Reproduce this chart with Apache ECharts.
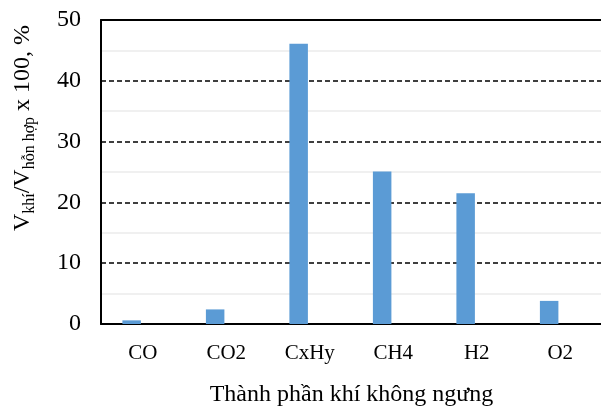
<!DOCTYPE html>
<html>
<head>
<meta charset="utf-8">
<script src="https://cdn.jsdelivr.net/npm/echarts@6/dist/echarts.min.js"></script>
<style>
  html, body { margin: 0; padding: 0; background: #fff; }
  #chart { width: 601px; height: 406px; }
</style>
</head>
<body>
<div id="chart"></div>
<script>
// số liệu
const categories = ['CO', 'CO2', 'CxHy', 'CH4', 'H2', 'O2']
const values = [0.6, 2.4, 46.1, 25.1, 21.5, 3.8]
const emptyValues = [null, null, null, null, null, null] // cột trống như Excel
const yTicks = [0, 10, 20, 30, 40, 50]

const font = '"Liberation Serif", "Times New Roman", serif'

const chart = echarts.init(document.getElementById('chart'))
const option = {
  animation: false,
  textStyle: { fontFamily: font },
  grid: { left: 101, right: -1, top: 20, bottom: 82, outerBoundsMode: 'none', containLabel: false },
  xAxis: [
    {
      type: 'category',
      data: categories,
      axisLine: { lineStyle: { color: '#000', width: 2 } },
      axisTick: { show: false },
      axisLabel: { color: '#000', fontSize: 21, fontFamily: font, margin: 19 },
      name: 'Thành phần khí không ngưng',
      nameLocation: 'middle',
      nameGap: 59,
      nameTextStyle: { color: '#000', fontSize: 24, fontFamily: font }
    },
    {
      // đường viền trên
      type: 'category',
      position: 'top',
      data: categories,
      axisLine: { lineStyle: { color: '#000', width: 2 } },
      axisTick: { show: false },
      axisLabel: { show: false }
    }
  ],
  yAxis: {
    type: 'value',
    min: yTicks[0],
    max: yTicks[yTicks.length - 1],
    interval: 10,
    axisLine: { show: true, lineStyle: { color: '#000', width: 2 } },
    axisTick: { show: false },
    axisLabel: { color: '#000', fontSize: 24, fontFamily: font, margin: 20 },
    splitLine: {
      show: true,
      lineStyle: { color: '#000', width: 1.5, type: [5, 3] }
    },
    minorTick: { show: false, splitNumber: 2 },
    minorSplitLine: { show: true, lineStyle: { color: '#f0f0f0', width: 2 } }
  },
  graphic: [
    {
      type: 'text',
      x: 23,
      y: 128,
      rotation: Math.PI / 2,
      style: {
        text: '{m|V}{s|khí}{m|/V}{s|hỗn hợp}{m| x 100, %}',
        align: 'center',
        verticalAlign: 'middle',
        fill: '#000',
        rich: {
          m: { fontSize: 24, fontFamily: font, lineHeight: 25, verticalAlign: 'top', fill: '#000' },
          s: { fontSize: 16, fontFamily: font, lineHeight: 18, padding: [11, 0, 0, 0], verticalAlign: 'top', fill: '#000' }
        }
      }
    }
  ],
  series: [
    {
      type: 'bar',
      data: values,
      barWidth: 18.5,
      barGap: '20%',
      itemStyle: { color: '#5b9bd5' }
    },
    {
      type: 'bar',
      data: emptyValues,
      barWidth: 18.5,
      itemStyle: { color: '#ed7d31' }
    }
  ]
}
chart.setOption(option)
</script>
</body>
</html>
